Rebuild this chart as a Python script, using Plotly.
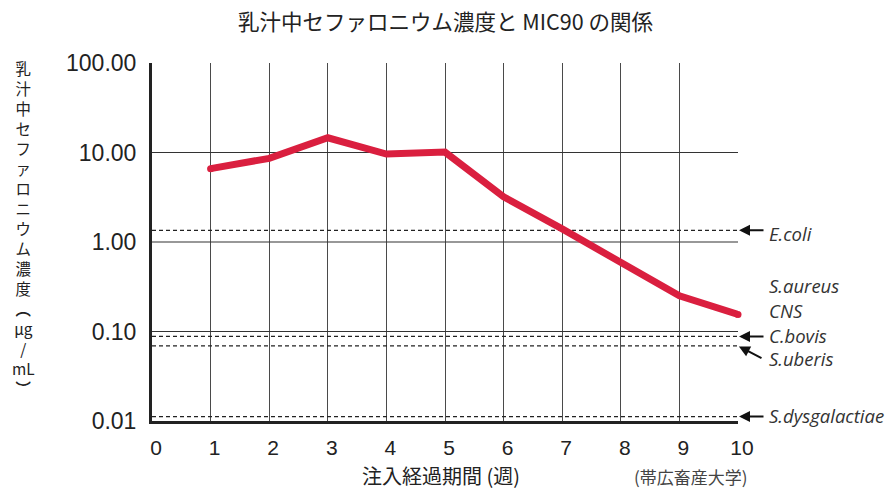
import math
import plotly.graph_objects as go

# ---- data ----
weeks = [1, 2, 3, 4, 5, 6, 7, 8, 9, 10]
conc = [6.6, 8.6, 14.6, 9.6, 10.1, 3.2, 1.4, 0.58, 0.25, 0.155]

mic_names = ["E.coli", "C.bovis", "S.uberis", "S.dysgalactiae"]
mic_values = [1.35, 0.088, 0.069, 0.0112]

grid_values = [10, 1, 0.1]
y_tickvals = [0.01, 0.1, 1, 10, 100]
y_ticktext = ["0.01", "0.10", "1.00", "10.00", "100.00"]
x_tickvals = list(range(0, 11))

title_text = "乳汁中セファロニウム濃度と MIC90 の関係"
y_title_parts = ["乳", "汁", "中", "セ", "フ", "ァ", "ロ", "ニ", "ウ", "ム", "濃", "度", "<b>︵</b>", "μg", "/", "mL", "<b>︶</b>"]
x_title_text = "注入経過期間 (週)"
source_text = "(帯広畜産大学)"
extra_labels = ["S.aureus", "CNS"]

# ---- layout constants ----
W, H = 896, 489
L, R, T, B = 152, 158, 63, 68
PW, PH = W - L - R, H - T - B

def px_to_paper_y(py):
    return (H - B - py) / PH

def px_to_paper_x(px):
    return (px - L) / PW

CJK = "Noto Sans CJK JP"
NUM = "Liberation Sans"
LAT = "Open Sans"

fig = go.Figure()

# horizontal grid lines
for g in grid_values:
    fig.add_trace(go.Scatter(x=[0, 10], y=[g, g], mode="lines",
                             line=dict(color="#333333", width=1.2),
                             hoverinfo="skip", showlegend=False))

# MIC dashed lines
for v in mic_values:
    fig.add_trace(go.Scatter(x=[0, 10], y=[v, v], mode="lines",
                             line=dict(color="#222222", width=1.2, dash="4px,3px"),
                             hoverinfo="skip", showlegend=False))

# concentration line
fig.add_trace(go.Scatter(x=weeks, y=conc, mode="lines",
                         line=dict(color="#DA1F3F", width=7),
                         cliponaxis=False, showlegend=False))
fig.add_trace(go.Scatter(x=[weeks[0], weeks[-1]], y=[conc[0], conc[-1]], mode="markers",
                         marker=dict(color="#DA1F3F", size=7),
                         cliponaxis=False, showlegend=False))

fig.update_layout(
    width=W, height=H,
    margin=dict(l=L, r=R, t=T, b=B, pad=0),
    paper_bgcolor="white", plot_bgcolor="white",
    showlegend=False,
    xaxis=dict(range=[0, 10], tickvals=x_tickvals, showgrid=True,
               gridcolor="#4a4a4a", gridwidth=1, zeroline=False,
               showline=True, linecolor="#222222", linewidth=3,
               ticks="", tickfont=dict(family=NUM, size=21, color="#222222"),
               ticklabelstandoff=6, ticklabelshift=4),
    yaxis=dict(type="log", range=[-2, 2], tickvals=y_tickvals, ticktext=y_ticktext,
               showgrid=False, zeroline=False,
               showline=True, linecolor="#222222", linewidth=3,
               ticks="", tickfont=dict(family=NUM, size=23, color="#222222"),
               ticklabelstandoff=8),
)

ann = []
# title
ann.append(dict(text=title_text, xref="paper", yref="paper",
                x=px_to_paper_x(445), y=px_to_paper_y(20),
                xanchor="center", yanchor="middle", showarrow=False,
                font=dict(family=CJK, size=21.5, color="#222222")))
# y title (stacked, one line per part)
ann.append(dict(text="<br>".join(y_title_parts), xref="paper", yref="paper",
                x=px_to_paper_x(23), y=px_to_paper_y(228),
                xanchor="center", yanchor="middle", showarrow=False,
                align="center",
                font=dict(family=CJK, size=15.4, color="#222222")))
# x title
ann.append(dict(text=x_title_text, xref="paper", yref="paper",
                x=px_to_paper_x(441), y=px_to_paper_y(475),
                xanchor="center", yanchor="middle", showarrow=False,
                font=dict(family=CJK, size=20, color="#222222")))
# source
ann.append(dict(text=source_text, xref="paper", yref="paper",
                x=px_to_paper_x(691), y=px_to_paper_y(476),
                xanchor="center", yanchor="middle", showarrow=False,
                font=dict(family=CJK, size=17, color="#444444")))

# MIC labels and arrows
label_px = {"E.coli": 233, "C.bovis": 335, "S.uberis": 358, "S.dysgalactiae": 415}
arrow_tail = {"E.coli": (27, 0), "C.bovis": (27, 0), "S.uberis": (25, 13), "S.dysgalactiae": (27, 0)}
for name, v in zip(mic_names, mic_values):
    ann.append(dict(text=f"<i>{name}</i>", xref="paper", yref="paper",
                    x=px_to_paper_x(767), y=px_to_paper_y(label_px[name]),
                    xanchor="left", yanchor="middle", showarrow=False,
                    font=dict(family=LAT, size=18.5, color="#333333")))
    axp, ayp = arrow_tail[name]
    ann.append(dict(text="", xref="x", yref="y", x=10, y=math.log10(v),
                    ax=axp, ay=ayp, showarrow=True, arrowhead=2, arrowsize=1.1,
                    arrowwidth=2, arrowcolor="#111111", standoff=1))
for lbl, py in zip(extra_labels, [285, 310]):
    ann.append(dict(text=f"<i>{lbl}</i>", xref="paper", yref="paper",
                    x=px_to_paper_x(767), y=px_to_paper_y(py),
                    xanchor="left", yanchor="middle", showarrow=False,
                    font=dict(family=LAT, size=18.5, color="#333333")))

fig.update_layout(annotations=ann)
fig.write_html("out.html")
